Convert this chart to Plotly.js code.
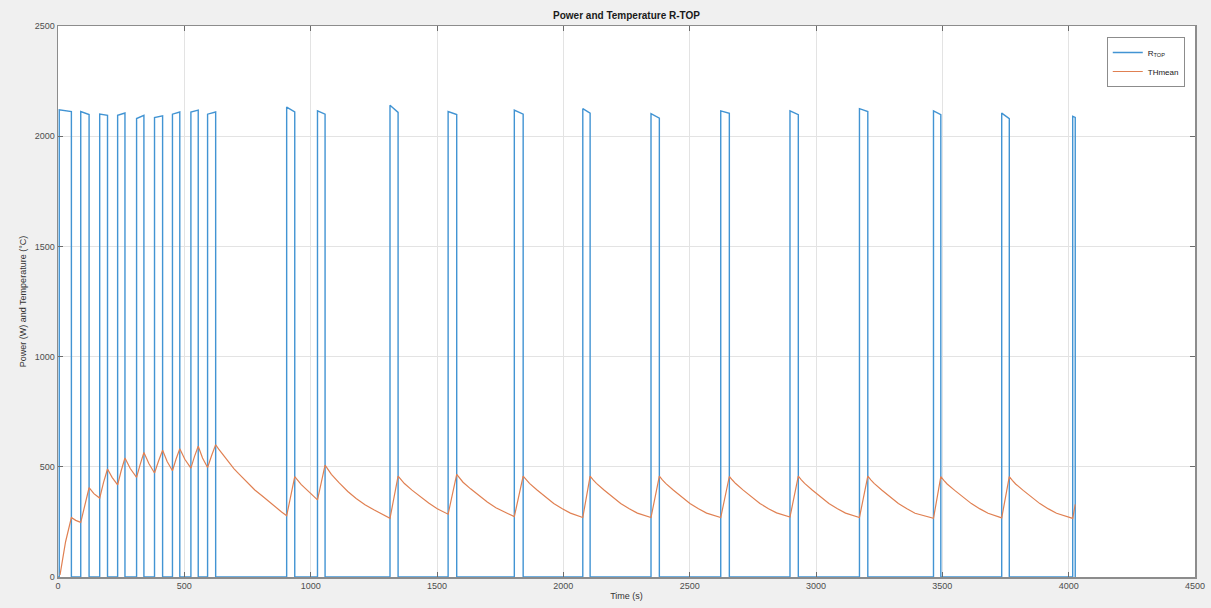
<!DOCTYPE html>
<html>
<head>
<meta charset="utf-8">
<script src="https://cdn.plot.ly/plotly-3.0.1.min.js"></script>
<style>
  html, body { margin: 0; padding: 0; background: #f0f0f0; }
  #chart { width: 1211px; height: 608px; }
</style>
</head>
<body>
<div id="chart"></div>
<script>
// ---- Power pulses (R-TOP) ----
const pulseOn       = [5, 90, 165, 236, 311, 382, 453, 526, 592, 905, 1027, 1314, 1544, 1806, 2077, 2347, 2623, 2897, 3172, 3465, 3735, 4016];
const pulseOff      = [53, 123, 196, 265, 340, 414, 482, 555, 624, 937, 1057, 1346, 1578, 1841, 2106, 2380, 2657, 2930, 3205, 3494, 3765, 4026];
const pulseTopStart = [2120, 2112, 2100, 2095, 2080, 2085, 2100, 2110, 2100, 2132, 2115, 2140, 2112, 2118, 2125, 2102, 2115, 2115, 2125, 2115, 2105, 2090];
const pulseTopEnd   = [2112, 2098, 2095, 2105, 2095, 2092, 2110, 2118, 2110, 2110, 2100, 2108, 2098, 2100, 2105, 2082, 2104, 2098, 2112, 2098, 2080, 2085];

// ---- Mean temperature THmean ----
const tempTime = [
  8, 30, 53, 70, 90, 106, 123, 142, 165, 180, 196, 214, 236, 250, 265, 286, 311, 325, 340, 360, 382, 398, 414, 432, 453, 467, 482, 502, 526, 540, 555, 572, 592, 608, 624,
  636, 649, 664, 679, 696, 714, 745, 779, 811, 838, 864, 885, 905,
  937, 962, 992, 1027,
  1057, 1070, 1082, 1112, 1147, 1180, 1215, 1250, 1282, 1314,
  1346, 1358, 1371, 1401, 1436, 1467, 1501, 1544,
  1578, 1590, 1603, 1633, 1668, 1699, 1733, 1765, 1806,
  1841, 1853, 1866, 1896, 1931, 1962, 1996, 2028, 2077,
  2106, 2118, 2131, 2161, 2196, 2227, 2261, 2293, 2347,
  2380, 2392, 2405, 2435, 2470, 2501, 2535, 2567, 2623,
  2657, 2669, 2682, 2712, 2747, 2778, 2812, 2844, 2897,
  2930, 2942, 2955, 2985, 3020, 3051, 3085, 3117, 3172,
  3205, 3217, 3230, 3260, 3295, 3326, 3360, 3392, 3465,
  3494, 3506, 3519, 3549, 3584, 3615, 3649, 3681, 3735,
  3765, 3777, 3790, 3820, 3855, 3886, 3920, 3952, 4016,
  4026
];
const tempValue = [
  10, 160, 270, 257, 248, 330, 405, 378, 358, 428, 490, 452, 418, 482, 540, 492, 452, 510, 565, 514, 472, 526, 575, 524, 482, 534, 582, 534, 494, 546, 593, 540, 497, 551, 600,
  580, 560, 537, 515, 492, 470, 432, 395, 365, 338, 315, 295, 278,
  455, 420, 388, 350,
  508, 486, 466, 428, 388, 356, 328, 305, 285, 266,
  458, 440, 424, 394, 362, 336, 310, 285,
  466, 447, 430, 400, 366, 340, 314, 295, 274,
  458, 441, 425, 395, 362, 334, 310, 290, 270,
  458, 441, 425, 395, 362, 334, 310, 290, 270,
  458, 441, 425, 395, 362, 334, 310, 290, 270,
  456, 440, 424, 394, 361, 334, 310, 291, 272,
  458, 441, 425, 395, 362, 334, 310, 290, 270,
  458, 441, 425, 395, 362, 334, 310, 289, 266,
  455, 438, 422, 393, 360, 333, 309, 289, 268,
  455, 438, 422, 393, 360, 333, 309, 289, 266,
  330
];

// ---- Axis ticks ----
const xTicks = [0, 500, 1000, 1500, 2000, 2500, 3000, 3500, 4000, 4500];
const yTicks = [0, 500, 1000, 1500, 2000, 2500];

// Build the step series of the power from the pulse table
const powerTime = [0];
const powerValue = [0];
for (let i = 0; i < pulseOn.length; i++) {
  powerTime.push(pulseOn[i], pulseOn[i], pulseOff[i], pulseOff[i]);
  powerValue.push(0, pulseTopStart[i], pulseTopEnd[i], 0);
}

const fontFam = 'Liberation Sans, Arial, Helvetica, sans-serif';

const traces = [
  {
    x: powerTime, y: powerValue, type: 'scatter', mode: 'lines',
    name: 'R<sub>TOP</sub>',
    line: { color: '#4294d3', width: 1.4 }
  },
  {
    x: tempTime, y: tempValue, type: 'scatter', mode: 'lines',
    name: 'THmean',
    line: { color: '#e08052', width: 1.2 }
  }
];

const axisCommon = {
  showline: true, linecolor: '#8c8c8c', linewidth: 1.5, mirror: 'ticks',
  ticks: 'inside', ticklen: 5, tickcolor: '#6b6b6b', tickwidth: 1,
  showgrid: true, gridcolor: '#e3e3e3', gridwidth: 1,
  zeroline: false,
  tickfont: { family: fontFam, size: 9, color: '#4d4d4d' }
};

const layout = {
  width: 1211, height: 608,
  paper_bgcolor: '#f0f0f0', plot_bgcolor: '#ffffff',
  margin: { l: 58, r: 16, t: 26, b: 31 },
  title: {
    text: '<b>Power and Temperature R-TOP</b>',
    font: { family: fontFam, size: 10, color: '#1a1a1a' },
    x: 0.5, xanchor: 'center', xref: 'paper', y: 0.975, yanchor: 'middle', yref: 'container'
  },
  xaxis: Object.assign({}, axisCommon, {
    range: [0, 4500], tickvals: xTicks, ticktext: xTicks.map(String),
    title: { text: 'Time (s)', font: { family: fontFam, size: 9, color: '#333333' }, standoff: 2 }
  }),
  yaxis: Object.assign({}, axisCommon, {
    range: [0, 2500], tickvals: yTicks, ticktext: yTicks.map(String),
    title: { text: 'Power (W) and Temperature (°C)', font: { family: fontFam, size: 9, color: '#333333' }, standoff: 6 }
  }),
  showlegend: true,
  legend: {
    x: 0.991, y: 0.98, xanchor: 'right', yanchor: 'top',
    bgcolor: '#ffffff', bordercolor: '#8c8c8c', borderwidth: 1,
    font: { family: fontFam, size: 8, color: '#1a1a1a' },
    tracegroupgap: 0, itemwidth: 30
  }
};

Plotly.newPlot('chart', traces, layout, { displayModeBar: false, staticPlot: true });
</script>
</body>
</html>
